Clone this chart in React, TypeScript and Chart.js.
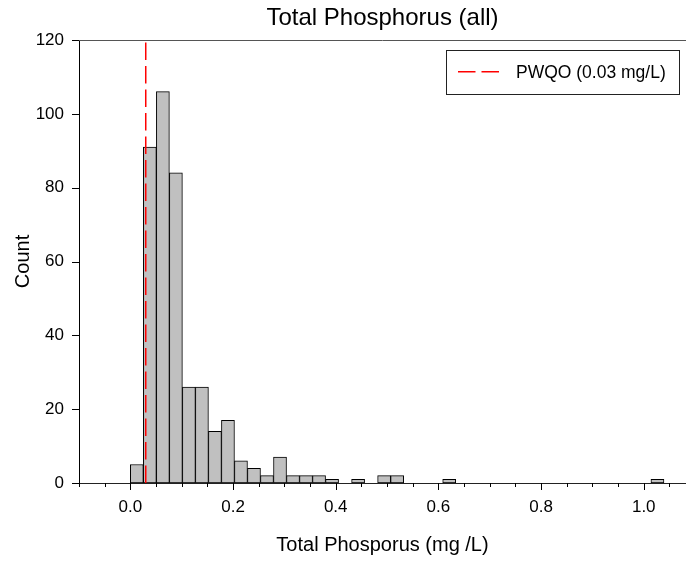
import React, { useEffect, useRef } from "react";
import { Chart, registerables } from "chart.js";

Chart.register(...registerables);

// ---- data ----
const binWidth = 0.02535;
const binCounts = [
  5, 91, 106, 84, 26, 26, 14, 17, 6, 4,
  2, 7, 2, 2, 2, 1, 0, 1, 0, 2,
  2, 0, 0, 0, 1, 0, 0, 0, 0, 0,
  0, 0, 0, 0, 0, 0, 0, 0, 0, 0,
  1,
];
const pwqoValue = 0.03;
const pwqoLabel = "PWQO (0.03 mg/L)";
const xLabelTicks = [0, 0.2, 0.4, 0.6, 0.8, 1.0];
const xMinorTicks = [
  -0.1, -0.05, 0, 0.05, 0.1, 0.15, 0.2, 0.25, 0.3, 0.35, 0.4, 0.45, 0.5,
  0.55, 0.6, 0.65, 0.7, 0.75, 0.8, 0.85, 0.9, 0.95, 1.0, 1.05,
];
const yTicks = [0, 20, 40, 60, 80, 100, 120];
const xMin = -0.1;
const xMax = 1.0823;
const yMin = 0;
const yMax = 120;

const FONT = "'Liberation Sans', Arial, sans-serif";

export default function App() {
  const ref = useRef<HTMLCanvasElement>(null);

  useEffect(() => {
    const canvas = ref.current;
    if (!canvas) return;
    Chart.defaults.font.family = FONT;

    const barData = binCounts
      .map((c, i) => ({ x: (i + 0.5) * binWidth, y: c }))
      .filter((p) => p.y > 0);

    const decorPlugin = {
      id: "decor",
      afterDraw(chart: any) {
        const { ctx, chartArea, scales } = chart;
        const xs = scales.x;
        const ys = scales.y;
        ctx.save();
        // top frame line
        ctx.strokeStyle = "#555";
        ctx.lineWidth = 1;
        const ty = Math.round(chartArea.top) + 0.5;
        ctx.beginPath();
        ctx.moveTo(chartArea.left, ty);
        ctx.lineTo(chartArea.right, ty);
        ctx.stroke();
        // x tick marks
        ctx.strokeStyle = "#000";
        const by = Math.round(chartArea.bottom);
        xMinorTicks.forEach((v) => {
          const major = xLabelTicks.some((m) => Math.abs(m - v) < 1e-6);
          const px = Math.round(xs.getPixelForValue(v)) + 0.5;
          const len = major ? 7 : 4;
          ctx.beginPath();
          ctx.moveTo(px, by);
          ctx.lineTo(px, by + len);
          ctx.stroke();
        });
        // y tick marks
        const lx = Math.round(chartArea.left);
        yTicks.forEach((v) => {
          const py = Math.round(ys.getPixelForValue(v)) + 0.5;
          ctx.beginPath();
          ctx.moveTo(lx - 7, py);
          ctx.lineTo(lx, py);
          ctx.stroke();
        });
        // legend
        const boxRight = chartArea.right - 7;
        const boxLeft = boxRight - 233;
        const boxTop = chartArea.top + 10;
        const boxH = 43.5;
        ctx.strokeStyle = "#222";
        ctx.lineWidth = 1;
        ctx.strokeRect(
          Math.round(boxLeft) + 0.5,
          Math.round(boxTop) + 0.5,
          Math.round(boxRight - boxLeft),
          Math.round(boxH)
        );
        const midY = boxTop + boxH / 2;
        ctx.strokeStyle = "rgb(255,0,0)";
        ctx.lineWidth = 1.5;
        ctx.setLineDash([17.5, 6]);
        ctx.beginPath();
        ctx.moveTo(boxLeft + 12, midY);
        ctx.lineTo(boxLeft + 53, midY);
        ctx.stroke();
        ctx.setLineDash([]);
        ctx.fillStyle = "#000";
        ctx.font = `17.5px ${FONT}`;
        ctx.textAlign = "left";
        ctx.textBaseline = "alphabetic";
        ctx.fillText(pwqoLabel, boxLeft + 70, midY + 6.5);
        ctx.restore();
      },
    };

    const chart = new Chart(canvas, {
      type: "bar",
      data: {
        datasets: [
          {
            type: "bar",
            label: "Count",
            data: barData as any,
            backgroundColor: "#c0c0c0",
            borderColor: "#000",
            borderWidth: 1,
            borderSkipped: false,
            barPercentage: 1,
            categoryPercentage: 1,
            order: 2,
          } as any,
          {
            type: "line",
            label: pwqoLabel,
            data: [
              { x: pwqoValue, y: yMin },
              { x: pwqoValue, y: yMax },
            ] as any,
            borderColor: "rgb(255,0,0)",
            borderWidth: 1.5,
            borderDash: [17.5, 6],
            pointRadius: 0,
            fill: false,
            order: 1,
          } as any,
        ],
      },
      options: {
        responsive: false,
        animation: false,
        devicePixelRatio: 1,
        layout: { padding: 0 },
        plugins: {
          legend: { display: false },
          tooltip: { enabled: false },
          title: {
            display: true,
            text: "Total Phosphorus (all)",
            fullSize: false,
            color: "#000",
            font: { size: 24, weight: "normal", family: FONT },
            padding: { top: 4, bottom: 7.2 },
          },
        },
        scales: {
          x: {
            type: "linear",
            min: xMin,
            max: xMax,
            offset: false,
            grid: { display: false, drawTicks: false, offset: false },
            border: { display: true, color: "#222", width: 1 },
            afterBuildTicks: (s: any) => {
              s.ticks = xLabelTicks.map((v) => ({ value: v }));
            },
            afterFit: (s: any) => {
              s.height = 80;
            },
            ticks: {
              autoSkip: false,
              maxRotation: 0,
              minRotation: 0,
              padding: 14,
              color: "#000",
              font: { size: 17, family: FONT },
              callback: (v: any) => Number(v).toFixed(1),
            },
            title: {
              display: true,
              text: "Total Phosporus (mg /L)",
              color: "#000",
              font: { size: 20, family: FONT },
              padding: { top: 0, bottom: 5.6 },
            },
          },
          y: {
            type: "linear",
            min: yMin,
            max: yMax,
            grid: { display: false, drawTicks: false },
            border: { display: true, color: "#000", width: 1 },
            afterBuildTicks: (s: any) => {
              s.ticks = yTicks.map((v) => ({ value: v }));
            },
            afterFit: (s: any) => {
              s.width = 79;
            },
            ticks: {
              padding: 15,
              color: "#000",
              font: { size: 17, family: FONT },
            },
            title: {
              display: true,
              text: "Count",
              color: "#000",
              font: { size: 20, family: FONT },
              padding: { top: 11, bottom: 0 },
            },
          },
        },
      } as any,
      plugins: [decorPlugin],
    });

    return () => {
      chart.destroy();
    };
  }, []);

  return (
    <div
      style={{
        position: "absolute",
        left: 0,
        top: 0,
        width: 686,
        height: 563,
        background: "#fff",
      }}
    >
      <canvas
        ref={ref}
        width={686}
        height={563}
        style={{ display: "block", width: 686, height: 563 }}
      />
    </div>
  );
}
